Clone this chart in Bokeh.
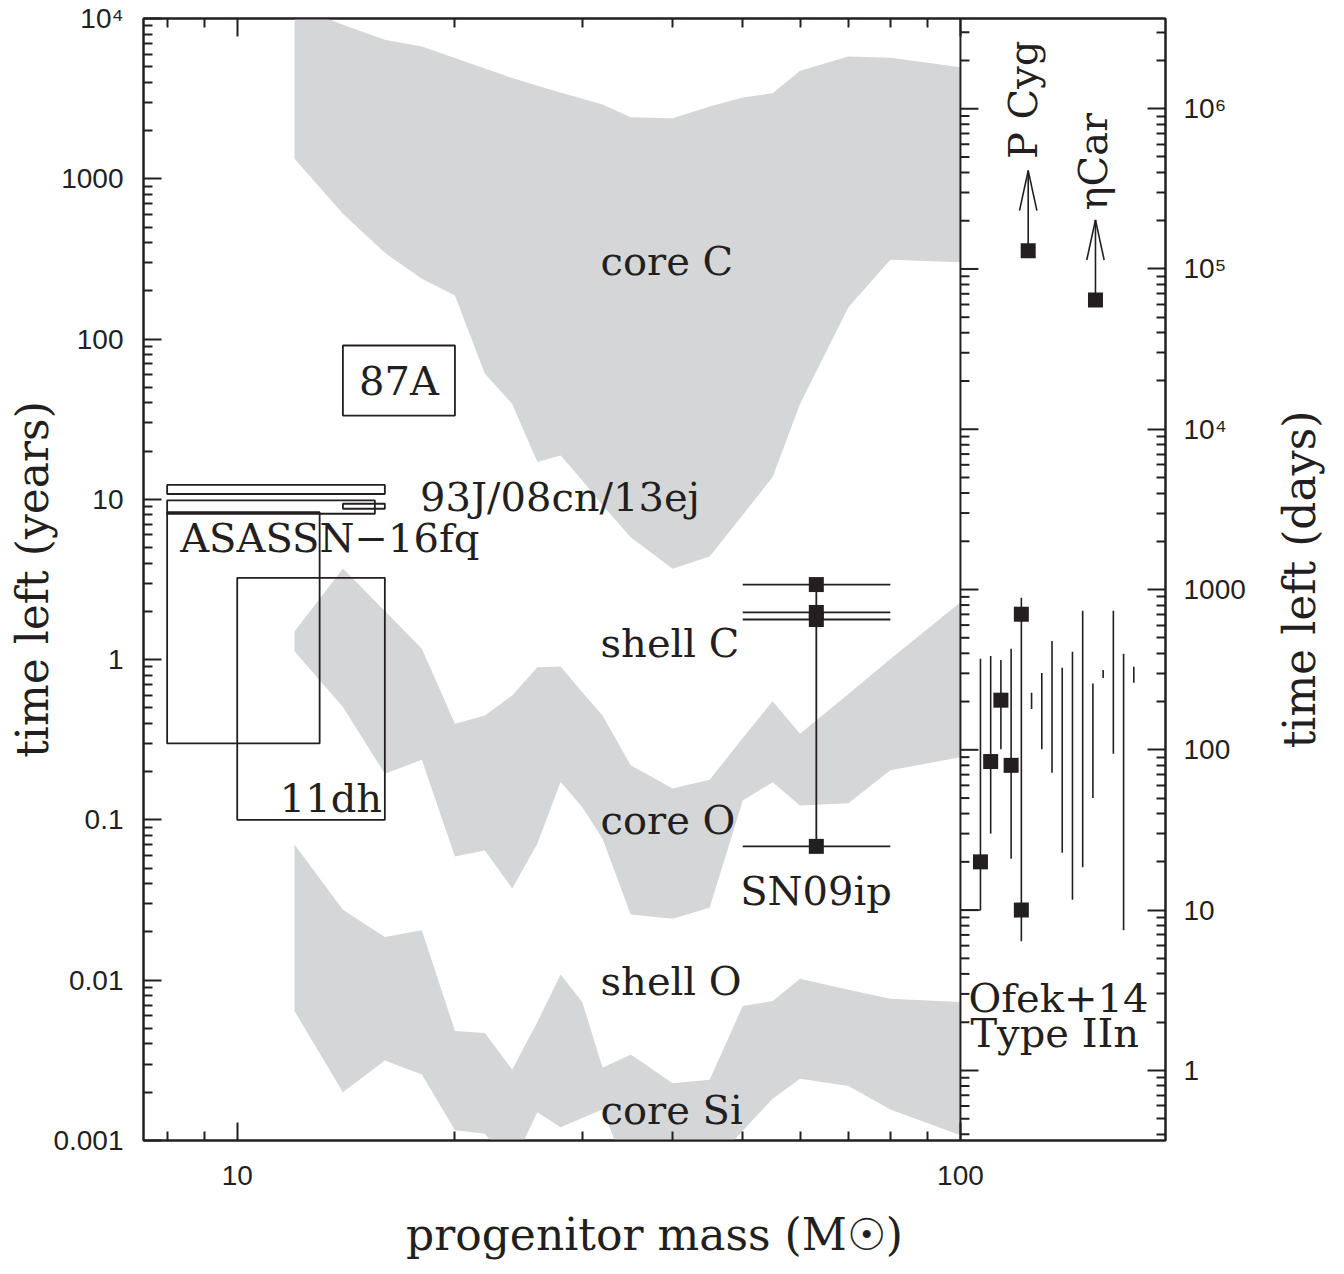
import math
from bokeh.plotting import figure
from bokeh.layouts import row
from bokeh.models import LogAxis, FixedTicker, Range1d, LinearScale, LogScale, Span
from bokeh.core.properties import value
from bokeh.embed import file_html
from bokeh.resources import INLINE

INK = "#231f20"
BAND = "#d5d6d8"
SERIF = "DejaVu Serif"
SANS = "Liberation Sans"

# ---------------- data: model bands (years vs progenitor mass) ----------------
MASS = [12, 14, 16, 18, 20, 22, 24, 26, 28, 30, 32, 35, 40, 45, 50, 55, 60, 70, 80, 100]
CORE_C_TOP = [12000, 9140, 7360, 6680, 5660, 4880, 4250, 3810, 3460, 3160, 2910, 2420, 2390,
              2820, 3210, 3420, 4720, 5800, 5690, 4960]
CORE_C_BOT = [1333, 605, 345, 238, 187, 60.7, 39.4, 17.1, 18.8, 13.1, 9.2, 5.81, 3.69,
              4.40, 8.0, 13.8, 39.4, 158, 312, 302]
CORE_O_TOP = [1.50, 3.71, 2.01, 1.17, 0.398, 0.449, 0.598, 0.898, 0.907, 0.627, 0.449, 0.219,
              0.157, 0.178, 0.324, 0.551, 0.345, 0.611, 1.01, 2.28]
CORE_O_BOT = [1.13, 0.506, 0.194, 0.237, 0.0591, 0.0645, 0.0374, 0.0710, 0.173, 0.120, 0.0763,
              0.0257, 0.0242, 0.0283, 0.132, 0.172, 0.123, 0.127, 0.204, 0.246]
CORE_SI_TOP = [0.0703, 0.0275, 0.0186, 0.0205, 0.00482, 0.00468, 0.00277, 0.00548, 0.01087,
               0.0073, 0.00284, 0.00344, 0.00228, 0.00239, 0.0069, 0.00742, 0.0102, 0.00872,
               0.00766, 0.0073]
CORE_SI_BOT = [0.00642, 0.0020, 0.00316, 0.00258, 0.00116, 0.0011, 0.0007, 0.0015, 0.00121,
               0.00138, 0.00156, 0.00056, 0.0006, 0.00069, 0.00115, 0.00182, 0.00243, 0.00219,
               0.00156, 0.00108]

# ---------------- data: observed objects ----------------
# outline boxes: (mass_lo, mass_hi, years_lo, years_hi)
SN93J_BOX = (8.0, 16.0, 10.8, 12.3)
SN08CN_BOX = (8.0, 15.5, 8.13, 9.85)
SN13EJ_BOX = (14.0, 16.0, 8.74, 9.39)
ASASSN_BOX = (8.0, 13.0, 0.30, 8.32)
SN11DH_BOX = (10.0, 16.0, 0.10, 3.24)
SN87A_BOX = (14.0, 20.0, 33.3, 91.2)

SN09IP_MASS = 63.2
SN09IP_MASS_RANGE = (50.0, 80.0)
SN09IP_YEARS = [2.94, 1.97, 1.78, 0.0684]

# right panel: Ofek+14 Type IIn (days), objects placed at index positions
OFEK_X = [1, 2, 3, 4, 5, 6, 7, 8, 9, 10, 11, 12, 13, 14, 15, 16]
OFEK_TOP = [370, 385, 364, 427, 888, 227, 302, 478, 325, 409, 736, 259, 315, 736, 397, 330]
OFEK_BOT = [10, 30, 101, 20.9, 6.4, 180, 101, 72, 22.8, 11.6, 18.5, 50, 281, 94.4, 7.5, 262]
OFEK_PT_X = [1, 2, 3, 4, 5, 5]
OFEK_PT_DAYS = [20, 84.5, 204, 80, 702, 10]
OFEK_LIMIT_DAYS = 10   # horizontal piece of first object to the panel edge

PCYG = (5.67, 1.30e5)
ETACAR = (12.25, 6.4e4)

# ---------------- axes / ticks ----------------
MASS_RANGE = (7.42, 192.1)        # main panel ends at 100, right panel beyond
MASS_EDGE = 100.0
YEAR_RANGE = (0.001, 1e4)
DAYS_PER_YEAR = 365.25
DAY_RANGE = (YEAR_RANGE[0] * DAYS_PER_YEAR, YEAR_RANGE[1] * DAYS_PER_YEAR)
INDEX_EDGE, INDEX_END = -0.957, 19.1   # index units at the panel divider / right edge

MASS_TICKS = [10, 100]
MASS_TICK_LABELS = ["10", "100"]
MASS_MINOR = [8, 9, 20, 30, 40, 50, 60, 70, 80, 90]
YEAR_TICKS = [0.001, 0.01, 0.1, 1, 10, 100, 1000, 10000]
YEAR_TICK_LABELS = ["0.001", "0.01", "0.1", "1", "10", "100", "1000", "10⁴"]
DAY_TICKS = [1, 10, 100, 1000, 10000, 100000, 1000000]
DAY_TICK_LABELS = ["1", "10", "100", "1000", "10⁴", "10⁵", "10⁶"]

X_TITLE = "progenitor mass (M☉)"
Y_TITLE = "time left (years)"
Y2_TITLE = "time left (days)"


def minor_log(lo, hi):
    out = []
    e = math.floor(math.log10(lo))
    while 10 ** e <= hi:
        for k in range(2, 10):
            v = k * 10 ** e
            if lo <= v <= hi:
                out.append(v)
        e += 1
    return out


YEAR_MINOR = minor_log(*YEAR_RANGE)
DAY_MINOR = minor_log(*DAY_RANGE)

TICK_FONT = "28px"
ANNOT_FONT = "40px"
LABEL_FONT = "44px"
MAJOR_LEN, MINOR_LEN = 18, 9
HEIGHT, TOP_B, BOTTOM_B = 1274, 18, 134

FRAME_W = 1022
PX_PER_DEC_X = FRAME_W / math.log10(MASS_RANGE[1] / MASS_RANGE[0])
frac_right = math.log10(MASS_RANGE[1] / MASS_EDGE) / math.log10(MASS_RANGE[1] / MASS_RANGE[0])
INDEX_START = INDEX_EDGE - (INDEX_END - INDEX_EDGE) * (1 - frac_right) / frac_right


def style_axis(ax, ticks, labels=None):
    ax.axis_line_color = INK
    ax.axis_line_width = 2
    ax.major_tick_line_color = INK
    ax.minor_tick_line_color = INK
    ax.major_tick_line_width = 2
    ax.minor_tick_line_width = 2
    ax.major_tick_in = MAJOR_LEN
    ax.major_tick_out = 0
    ax.minor_tick_in = MINOR_LEN
    ax.minor_tick_out = 0
    ax.major_label_text_font = SANS
    ax.major_label_text_color = INK
    ax.axis_label_text_font = SERIF
    ax.axis_label_text_font_style = "normal"
    ax.axis_label_text_font_size = LABEL_FONT
    ax.axis_label_text_color = INK
    if labels is None:
        ax.major_label_text_font_size = "1px"
        ax.major_label_standoff = 0
        ax.major_label_overrides = {t: "" for t in ticks}
    else:
        ax.major_label_text_font_size = TICK_FONT
        ax.major_label_overrides = dict(zip(ticks, labels))


p = figure(width=143 + FRAME_W + 85, height=HEIGHT, x_axis_type="log", y_axis_type="log",
           x_range=MASS_RANGE, y_range=YEAR_RANGE,
           output_backend="svg", toolbar_location=None,
           min_border_left=143, min_border_right=85, min_border_top=TOP_B,
           min_border_bottom=BOTTOM_B)
p.extra_x_ranges = {"idx": Range1d(INDEX_START, INDEX_END)}
p.extra_x_scales = {"idx": LinearScale()}
p.extra_y_ranges = {"days": Range1d(*DAY_RANGE)}
p.extra_y_scales = {"days": LogScale()}
p.title.visible = False
p.grid.visible = False
p.outline_line_color = INK
p.outline_line_width = 2
p.background_fill_color = "white"
p.border_fill_color = "white"

xa = p.xaxis[0]
xa.ticker = FixedTicker(ticks=MASS_TICKS, minor_ticks=MASS_MINOR)
style_axis(xa, MASS_TICKS, MASS_TICK_LABELS)
xa.major_label_standoff = 25
xa.axis_label = X_TITLE
xa.axis_label_standoff = 21

ya = p.yaxis[0]
ya.ticker = FixedTicker(ticks=YEAR_TICKS, minor_ticks=YEAR_MINOR)
style_axis(ya, YEAR_TICKS, YEAR_TICK_LABELS)
ya.major_label_standoff = 20
ya.axis_label = Y_TITLE
ya.axis_label_standoff = -8

top_ax = LogAxis(ticker=FixedTicker(ticks=MASS_TICKS, minor_ticks=MASS_MINOR))
style_axis(top_ax, MASS_TICKS)
p.add_layout(top_ax, "above")

ra = LogAxis(y_range_name="days", ticker=FixedTicker(ticks=DAY_TICKS, minor_ticks=DAY_MINOR))
style_axis(ra, DAY_TICKS, DAY_TICK_LABELS)
ra.major_label_standoff = 18
p.add_layout(ra, "right")

# ---------------- main panel ----------------
for top, bot in [(CORE_C_TOP, CORE_C_BOT), (CORE_O_TOP, CORE_O_BOT), (CORE_SI_TOP, CORE_SI_BOT)]:
    p.patch(x=MASS + MASS[::-1], y=top + bot[::-1], fill_color=BAND, line_color=None)

boxes = [SN93J_BOX, SN08CN_BOX, SN13EJ_BOX, ASASSN_BOX, SN11DH_BOX, SN87A_BOX]
p.quad(left=[b[0] for b in boxes], right=[b[1] for b in boxes],
       bottom=[b[2] for b in boxes], top=[b[3] for b in boxes],
       fill_color=None, line_color=INK, line_width=1.8)

p.segment(x0=[SN09IP_MASS], y0=[SN09IP_YEARS[0]], x1=[SN09IP_MASS], y1=[SN09IP_YEARS[-1]],
          line_color=INK, line_width=1.8)
p.segment(x0=[SN09IP_MASS_RANGE[0]] * len(SN09IP_YEARS), y0=SN09IP_YEARS,
          x1=[SN09IP_MASS_RANGE[1]] * len(SN09IP_YEARS), y1=SN09IP_YEARS,
          line_color=INK, line_width=1.8)
p.scatter(x=[SN09IP_MASS] * len(SN09IP_YEARS), y=SN09IP_YEARS, marker="square", size=15,
          fill_color=INK, line_color=None)


def label(x, y, text, align="left", angle=0.0, **kw):
    p.text(x=[x], y=[y], text=[text], text_align=align, text_baseline="middle", angle=angle,
           text_font=value(SERIF), text_font_size=value(ANNOT_FONT), text_color=INK, **kw)


label(31.8, 309, "core C")
label(31.8, 1.262, "shell C")
label(31.8, 0.100, "core O")
label(31.8, 0.00983, "shell O")
label(31.8, 0.00154, "core Si")
label(math.sqrt(SN87A_BOX[0] * SN87A_BOX[1]), math.sqrt(SN87A_BOX[2] * SN87A_BOX[3]),
      "87A", align="center")
label(17.9, 10.4, "93J/08cn/13ej")
label(8.34, 5.70, "ASASSN−16fq")
label(15.86, 0.138, "11dh", align="right")
label(49.6, 0.0358, "SN09ip")

# ---------------- divider + right panel ----------------
p.add_layout(Span(location=MASS_EDGE, dimension="height", line_color=INK, line_width=2))
for ticks, length in [(DAY_TICKS, MAJOR_LEN), (DAY_MINOR, MINOR_LEN)]:
    p.segment(x0=[MASS_EDGE] * len(ticks), y0=ticks,
              x1=[MASS_EDGE * 10 ** (length / PX_PER_DEC_X)] * len(ticks), y1=ticks,
              y_range_name="days", line_color=INK, line_width=2)

R = dict(x_range_name="idx", y_range_name="days")
p.segment(x0=OFEK_X, y0=OFEK_BOT, x1=OFEK_X, y1=OFEK_TOP, line_color=INK, line_width=1.6, **R)
p.segment(x0=[INDEX_EDGE], y0=[OFEK_LIMIT_DAYS], x1=[OFEK_X[0]], y1=[OFEK_LIMIT_DAYS],
          line_color=INK, line_width=1.6, **R)
p.scatter(x=OFEK_PT_X, y=OFEK_PT_DAYS, marker="square", size=15, fill_color=INK,
          line_color=None, **R)

ARROW_DEC = 0.5
HEAD_DEC = 0.25
HEAD_HALF = 0.85
for (ax_, ay_) in [PCYG, ETACAR]:
    tip = ay_ * 10 ** ARROW_DEC
    wing = tip / 10 ** HEAD_DEC
    p.segment(x0=[ax_, ax_, ax_], y0=[ay_, tip, tip],
              x1=[ax_, ax_ - HEAD_HALF, ax_ + HEAD_HALF], y1=[tip, wing, wing],
              line_color=INK, line_width=1.6, **R)
p.scatter(x=[PCYG[0], ETACAR[0]], y=[PCYG[1], ETACAR[1]], marker="square", size=15,
          fill_color=INK, line_color=None, **R)

label(5.16, 4.85e5, "P Cyg", angle=math.pi / 2, **R)
label(12.0, 2.32e5, "ηCar", angle=math.pi / 2, **R)
label(-0.17, 2.82, "Ofek+14", **R)
label(0.02, 1.72, "Type IIn", **R)

# ---------------- days-axis title (reads bottom to top, centred on the frame) ----------------
q = figure(width=84, height=HEIGHT, y_axis_type="log", y_range=Range1d(*DAY_RANGE),
           x_range=Range1d(0, 1), x_axis_location=None,
           output_backend="svg", toolbar_location=None,
           min_border_left=74, min_border_right=0, min_border_top=TOP_B,
           min_border_bottom=BOTTOM_B)
q.title.visible = False
q.grid.visible = False
q.outline_line_color = None
q.background_fill_color = "white"
q.border_fill_color = "white"
qa = q.yaxis[0]
qa.ticker = FixedTicker(ticks=[DAY_TICKS[0]])
qa.major_label_overrides = {DAY_TICKS[0]: ""}
qa.axis_line_color = None
qa.major_tick_line_color = None
qa.minor_tick_line_color = None
qa.major_tick_in = 0
qa.major_tick_out = 0
qa.minor_tick_in = 0
qa.minor_tick_out = 0
qa.major_label_text_font_size = "1px"
qa.major_label_standoff = 0
qa.axis_label = Y2_TITLE
qa.axis_label_standoff = 0
qa.axis_label_text_font = SERIF
qa.axis_label_text_font_style = "normal"
qa.axis_label_text_font_size = LABEL_FONT
qa.axis_label_text_color = INK

layout = row(p, q)
open("out.html", "w").write(file_html(layout, INLINE))
